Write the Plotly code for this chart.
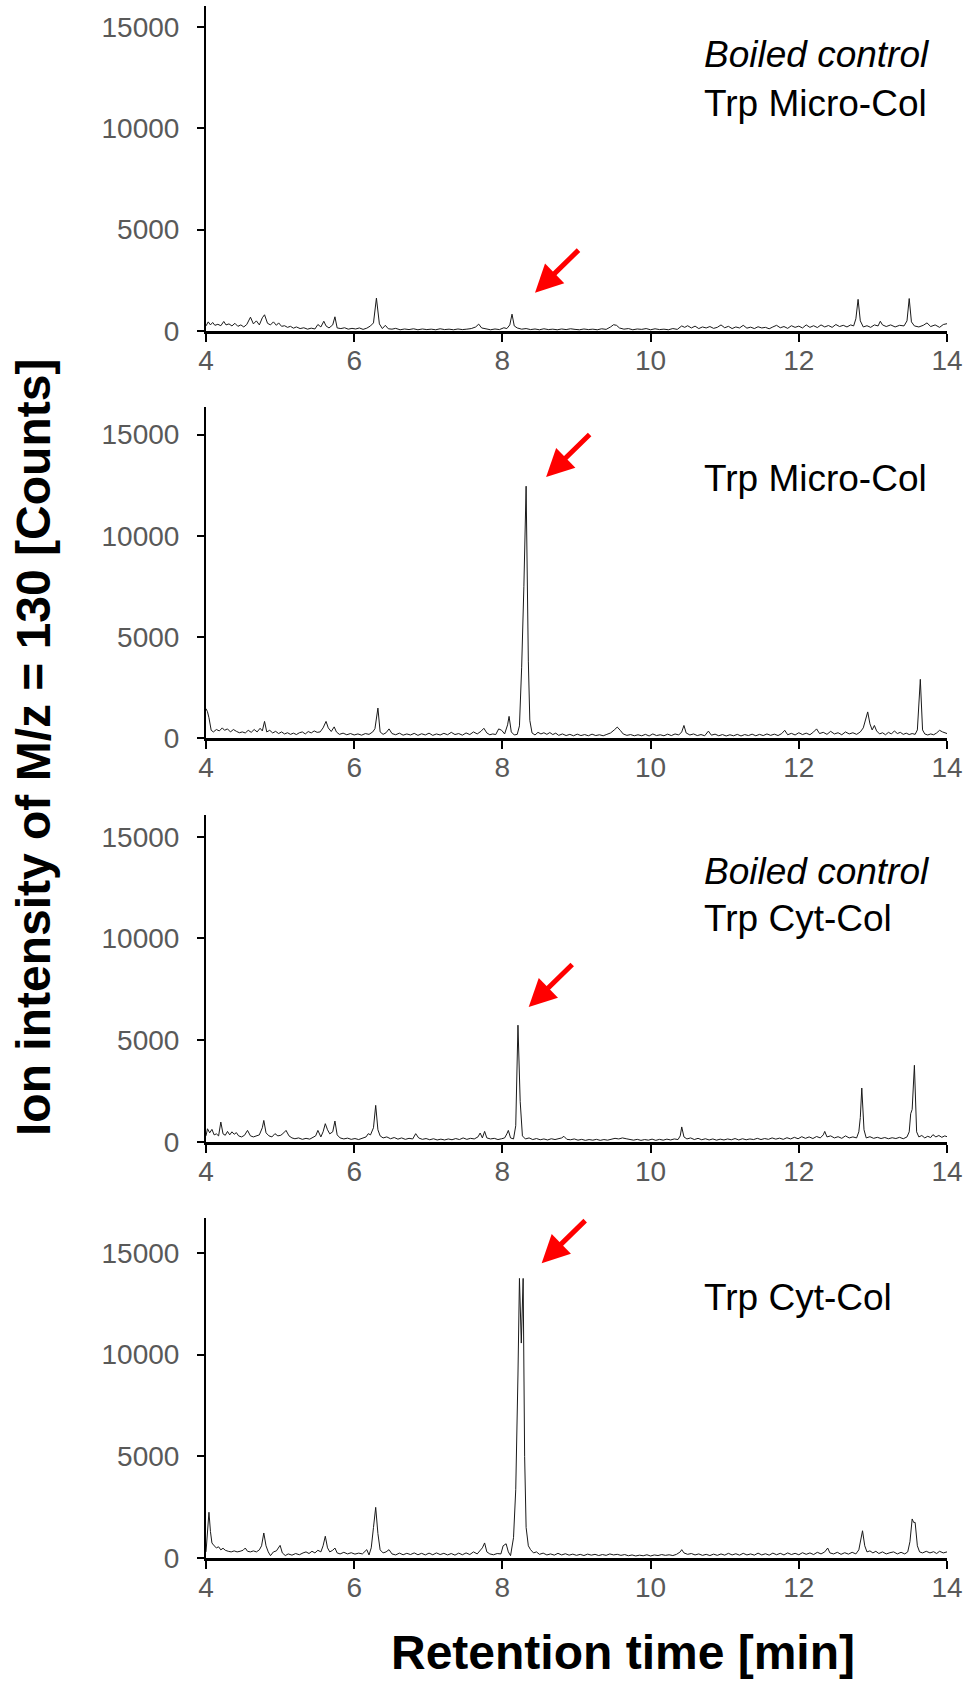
import plotly.graph_objects as go

# ---------------- data ----------------
x_ticks = [4, 6, 8, 10, 12, 14]
y_ticks = [0, 5000, 10000, 15000]
y_tick_text = ["0", "5000", "10000", "15000"]

panel_labels = [
    ["<i>Boiled control</i>", "Trp Micro-Col"],
    ["Trp Micro-Col"],
    ["<i>Boiled control</i>", "Trp Cyt-Col"],
    ["Trp Cyt-Col"],
]

# Panel 1: Boiled control, Trp Micro-Col
t1 = [4.00,4.03,4.06,4.09,4.12,4.16,4.20,4.24,4.27,4.31,
      4.35,4.39,4.43,4.47,4.51,4.55,4.60,4.64,4.68,4.72,
      4.76,4.79,4.83,4.87,4.91,4.95,4.98,5.02,5.06,5.10,
      5.14,5.18,5.22,5.27,5.32,5.37,5.42,5.47,5.51,5.55,
      5.59,5.62,5.66,5.71,5.74,5.77,5.82,5.87,5.92,5.97,
      6.02,6.07,6.12,6.17,6.22,6.26,6.30,6.34,6.38,6.42,
      6.46,6.51,6.56,6.62,6.68,6.74,6.80,6.86,6.92,6.98,
      7.04,7.10,7.16,7.22,7.28,7.34,7.40,7.46,7.52,7.58,
      7.64,7.68,7.72,7.78,7.84,7.90,7.96,8.02,8.06,8.10,
      8.13,8.16,8.20,8.26,8.32,8.38,8.44,8.50,8.56,8.62,
      8.68,8.74,8.80,8.86,8.92,8.98,9.04,9.10,9.16,9.22,
      9.28,9.34,9.40,9.46,9.50,9.54,9.58,9.64,9.70,9.76,
      9.82,9.88,9.94,10.00,10.06,10.12,10.18,10.24,10.30,10.36,
      10.42,10.46,10.50,10.55,10.60,10.65,10.70,10.75,10.80,10.85,
      10.90,10.95,11.00,11.05,11.10,11.15,11.20,11.25,11.30,11.35,
      11.40,11.45,11.50,11.55,11.60,11.65,11.70,11.75,11.80,11.85,
      11.90,11.95,12.00,12.05,12.10,12.15,12.20,12.25,12.30,12.35,
      12.40,12.45,12.50,12.55,12.60,12.65,12.70,12.74,12.77,12.80,
      12.83,12.87,12.92,12.97,13.02,13.07,13.10,13.13,13.18,13.24,
      13.30,13.36,13.42,13.46,13.49,13.52,13.56,13.62,13.68,13.73,
      13.78,13.84,13.90,13.95,14.00]
v1 = [250,450,300,420,280,330,260,470,300,350,
      250,380,230,300,200,320,680,350,500,300,
      650,800,380,300,450,280,400,230,260,180,
      230,140,200,120,160,90,140,100,320,200,
      480,250,150,300,700,150,120,160,90,130,
      100,150,80,140,250,400,1620,350,120,280,
      110,90,130,60,100,70,110,60,100,70,
      90,60,110,70,90,60,100,70,90,120,
      200,340,150,90,60,100,70,160,120,300,
      830,250,150,90,120,70,100,60,110,70,
      90,60,100,70,110,80,60,100,70,90,
      60,110,80,200,310,280,150,90,120,60,
      100,80,120,60,110,70,90,60,120,80,
      250,180,260,150,240,120,200,150,220,130,
      180,300,160,230,120,200,150,280,140,190,
      120,210,150,180,110,200,280,160,220,130,
      260,180,240,150,300,180,260,170,300,200,
      270,180,320,220,280,200,300,250,600,1560,
      500,200,260,180,300,250,480,300,220,300,
      200,280,250,500,1600,450,250,200,280,400,
      220,300,180,320,360]

# Panel 2: Trp Micro-Col
t2 = [4.00,4.02,4.04,4.07,4.10,4.14,4.18,4.22,4.25,4.29,
      4.33,4.37,4.41,4.45,4.49,4.53,4.57,4.61,4.65,4.69,
      4.73,4.76,4.79,4.82,4.86,4.90,4.94,4.98,5.02,5.06,
      5.10,5.14,5.18,5.22,5.26,5.30,5.34,5.38,5.42,5.46,
      5.50,5.54,5.58,5.62,5.65,5.69,5.73,5.76,5.80,5.85,
      5.90,5.95,6.00,6.05,6.10,6.15,6.20,6.25,6.28,6.32,
      6.35,6.39,6.43,6.47,6.51,6.56,6.61,6.66,6.71,6.76,
      6.81,6.86,6.91,6.96,7.01,7.06,7.11,7.16,7.21,7.26,
      7.31,7.36,7.41,7.46,7.51,7.56,7.61,7.66,7.71,7.75,
      7.79,7.83,7.87,7.91,7.95,7.99,8.03,8.07,8.09,8.12,
      8.16,8.20,8.23,8.26,8.29,8.32,8.35,8.37,8.40,8.44,
      8.48,8.52,8.56,8.60,8.64,8.68,8.72,8.76,8.81,8.86,
      8.91,8.96,9.01,9.06,9.11,9.16,9.21,9.26,9.31,9.36,
      9.41,9.46,9.51,9.55,9.59,9.63,9.68,9.73,9.78,9.83,
      9.88,9.93,9.98,10.03,10.08,10.13,10.18,10.23,10.28,10.33,
      10.38,10.42,10.45,10.48,10.53,10.58,10.63,10.68,10.73,10.78,
      10.82,10.87,10.92,10.97,11.02,11.07,11.12,11.17,11.22,11.27,
      11.32,11.37,11.42,11.47,11.52,11.57,11.62,11.67,11.72,11.77,
      11.81,11.85,11.90,11.95,12.00,12.05,12.10,12.15,12.20,12.24,
      12.28,12.33,12.38,12.43,12.48,12.53,12.58,12.63,12.68,12.73,
      12.78,12.83,12.87,12.90,12.93,12.96,12.99,13.02,13.05,13.09,
      13.13,13.17,13.21,13.25,13.29,13.33,13.37,13.41,13.45,13.49,
      13.53,13.57,13.60,13.64,13.67,13.70,13.74,13.78,13.82,13.86,
      13.90,13.94,13.98,14.00]
v2 = [1450,1300,1000,380,300,420,350,500,380,450,
      300,420,330,260,300,250,380,280,420,300,
      480,350,820,300,380,250,330,220,300,200,
      260,180,240,170,260,300,200,320,250,350,
      280,300,500,820,500,320,550,300,180,240,
      160,220,150,200,140,220,180,300,460,1480,
      300,180,260,450,220,160,240,140,200,150,
      230,130,210,150,240,130,200,150,230,160,
      280,170,220,140,250,170,300,200,330,480,
      250,160,200,170,450,380,200,650,1070,300,
      150,180,600,3500,7500,12450,3800,870,250,150,
      280,200,260,180,270,170,240,130,200,120,
      180,110,190,120,170,110,190,120,160,110,
      180,250,400,540,380,200,130,170,110,160,
      110,180,100,200,120,160,110,190,120,200,
      150,300,620,250,150,200,120,170,110,340,
      140,190,110,170,100,160,110,180,100,170,
      120,190,110,180,120,200,130,190,120,220,
      380,160,230,150,260,170,240,160,300,450,
      220,280,180,330,200,260,160,300,200,260,
      180,300,500,900,1290,700,400,620,350,200,
      260,160,280,200,350,220,280,180,240,170,
      220,180,400,2900,400,200,150,200,160,250,
      380,300,250,220]

# Panel 3: Boiled control, Trp Cyt-Col
t3 = [4.00,4.02,4.05,4.08,4.11,4.14,4.17,4.20,4.23,4.26,
      4.29,4.32,4.35,4.38,4.41,4.44,4.48,4.52,4.56,4.60,
      4.64,4.68,4.72,4.76,4.78,4.81,4.85,4.89,4.93,4.97,
      5.01,5.05,5.08,5.12,5.16,5.20,5.25,5.30,5.35,5.40,
      5.44,5.48,5.51,5.55,5.58,5.61,5.64,5.67,5.71,5.74,
      5.77,5.81,5.86,5.91,5.96,6.01,6.06,6.11,6.16,6.19,
      6.22,6.26,6.29,6.32,6.35,6.39,6.44,6.49,6.54,6.59,
      6.64,6.69,6.74,6.79,6.83,6.87,6.92,6.97,7.02,7.07,
      7.12,7.17,7.22,7.27,7.32,7.37,7.42,7.47,7.52,7.57,
      7.62,7.67,7.70,7.73,7.76,7.79,7.84,7.89,7.94,7.99,
      8.03,8.06,8.08,8.11,8.15,8.18,8.21,8.24,8.27,8.31,
      8.36,8.41,8.46,8.51,8.56,8.61,8.66,8.71,8.76,8.80,
      8.83,8.87,8.92,8.97,9.02,9.07,9.12,9.17,9.22,9.27,
      9.32,9.37,9.42,9.47,9.52,9.57,9.62,9.67,9.72,9.77,
      9.82,9.87,9.92,9.97,10.02,10.07,10.12,10.17,10.22,10.27,
      10.32,10.37,10.40,10.42,10.45,10.49,10.54,10.59,10.64,10.69,
      10.74,10.79,10.84,10.89,10.94,10.99,11.04,11.09,11.14,11.19,
      11.24,11.29,11.34,11.39,11.44,11.49,11.54,11.59,11.64,11.69,
      11.74,11.79,11.84,11.89,11.94,11.99,12.04,12.09,12.14,12.19,
      12.24,12.29,12.33,12.35,12.38,12.43,12.48,12.53,12.58,12.63,
      12.68,12.73,12.78,12.81,12.83,12.85,12.88,12.91,12.96,13.01,
      13.06,13.11,13.16,13.21,13.26,13.31,13.36,13.41,13.46,13.49,
      13.51,13.53,13.56,13.59,13.62,13.66,13.70,13.74,13.78,13.81,
      13.85,13.89,13.93,13.97,14.00]
v3 = [300,650,450,620,350,400,300,980,400,330,
      520,350,500,380,460,300,250,330,570,300,
      250,300,350,700,1060,450,300,250,410,300,
      330,450,570,300,200,160,200,130,180,140,
      220,300,570,250,500,900,600,400,500,1030,
      350,200,150,190,130,170,120,180,250,410,
      350,700,1800,600,300,200,250,160,220,140,
      200,130,180,150,410,200,130,170,110,160,
      100,140,100,150,110,170,120,200,130,180,
      150,250,440,200,520,200,150,180,120,160,
      200,400,570,200,150,800,5740,2000,300,150,
      200,120,170,110,150,100,160,120,150,200,
      280,130,110,150,90,130,80,120,90,130,
      80,120,90,140,180,150,200,160,130,90,
      130,80,120,90,140,80,130,90,140,100,
      150,120,300,740,250,150,200,120,180,110,
      160,100,150,90,140,100,150,110,170,100,
      160,110,150,120,180,120,170,130,200,140,
      190,130,210,150,230,160,260,180,250,170,
      270,200,350,520,250,300,200,260,180,300,
      200,250,200,500,1200,2650,600,200,260,180,
      230,170,220,160,210,170,230,160,250,500,
      1390,1600,3770,500,250,320,200,280,220,360,
      250,320,230,300,260]

# Panel 4: Trp Cyt-Col
t4 = [4.00,4.02,4.04,4.06,4.08,4.11,4.14,4.17,4.20,4.23,
      4.26,4.30,4.34,4.38,4.42,4.46,4.50,4.53,4.56,4.60,
      4.64,4.68,4.72,4.75,4.78,4.81,4.84,4.87,4.91,4.95,
      4.98,5.00,5.03,5.07,5.11,5.16,5.21,5.26,5.31,5.35,
      5.39,5.43,5.47,5.51,5.55,5.58,5.61,5.64,5.67,5.71,
      5.74,5.77,5.81,5.86,5.91,5.96,6.01,6.06,6.11,6.14,
      6.17,6.20,6.23,6.26,6.29,6.32,6.35,6.39,6.43,6.47,
      6.51,6.56,6.61,6.66,6.71,6.76,6.81,6.86,6.91,6.96,
      7.01,7.06,7.11,7.16,7.21,7.26,7.31,7.36,7.41,7.46,
      7.51,7.56,7.61,7.66,7.70,7.73,7.76,7.79,7.83,7.88,
      7.93,7.98,8.01,8.03,8.05,8.08,8.11,8.15,8.18,8.21,
      8.23,8.255,8.28,8.30,8.32,8.35,8.38,8.42,8.46,8.50,
      8.55,8.60,8.65,8.70,8.75,8.80,8.85,8.90,8.95,9.00,
      9.05,9.10,9.15,9.20,9.25,9.30,9.35,9.40,9.45,9.50,
      9.55,9.60,9.65,9.70,9.75,9.80,9.85,9.90,9.95,10.00,
      10.05,10.10,10.15,10.20,10.25,10.30,10.35,10.40,10.42,10.45,
      10.50,10.55,10.60,10.65,10.70,10.75,10.80,10.85,10.90,10.95,
      11.00,11.05,11.10,11.15,11.20,11.25,11.30,11.35,11.40,11.45,
      11.50,11.55,11.60,11.65,11.70,11.75,11.80,11.85,11.90,11.95,
      12.00,12.05,12.10,12.15,12.20,12.25,12.30,12.35,12.39,12.42,
      12.47,12.52,12.57,12.62,12.67,12.72,12.77,12.81,12.84,12.86,
      12.89,12.92,12.96,13.00,13.04,13.08,13.13,13.18,13.23,13.28,
      13.33,13.38,13.43,13.47,13.50,13.53,13.55,13.57,13.60,13.63,
      13.67,13.72,13.77,13.82,13.86,13.90,13.95,14.00]
v4 = [300,1200,2250,1300,740,600,500,550,400,480,
      380,330,300,350,300,330,380,490,330,300,
      350,300,400,600,1230,600,300,115,300,350,
      500,620,250,120,200,140,220,160,250,300,
      220,330,250,380,300,600,1070,500,300,380,
      490,250,200,280,200,260,190,240,200,300,
      410,150,500,1500,2490,1200,400,250,300,410,
      200,150,240,160,230,170,250,160,230,150,
      240,160,250,170,230,150,220,140,240,160,
      250,170,300,200,380,500,740,300,200,160,
      220,200,600,650,700,300,115,1000,3360,9000,
      13750,10570,13750,5000,1500,600,410,250,300,180,
      240,150,200,140,230,150,210,140,190,130,
      180,120,190,140,180,120,170,130,200,150,
      180,130,170,110,150,100,140,110,160,100,
      150,120,170,130,160,120,180,300,410,250,
      180,220,150,200,130,180,120,190,130,200,
      140,230,150,210,140,230,150,200,140,240,
      150,210,140,240,160,230,150,250,170,230,
      160,260,180,250,170,280,200,300,490,250,
      200,280,180,260,190,280,200,400,900,1340,
      600,300,350,250,330,220,300,200,260,300,
      200,280,200,300,800,1920,1750,1750,600,300,
      250,330,250,310,220,330,250,300]

# arrow tips (retention time, intensity) pointing at the Trp peak
arrow_t = [8.44, 8.59, 8.355, 8.53]
arrow_v = [1890, 12900, 6630, 14500]

# ---------------- layout constants ----------------
W, H = 966, 1681
FONT = "Liberation Sans, Arial, Helvetica, sans-serif"
TICK_GREY = "#595959"
X_LEFT, X_RIGHT = 206, 947
panel_px = [(6, 331, 16020), (407, 738, 16365), (815, 1142, 16067), (1218, 1558, 16721)]
label_px = [[54, 103], [479], [871, 918], [1297]]
LABEL_X = 702

traces_t = [t1, t2, t3, t4]
traces_v = [v1, v2, v3, v4]
for tt, vv in zip(traces_t, traces_v):
    assert len(tt) == len(vv)

fig = go.Figure()
annotations = []
for i, (tt, vv) in enumerate(zip(traces_t, traces_v)):
    n = "" if i == 0 else str(i + 1)
    fig.add_trace(go.Scatter(x=tt, y=vv, mode="lines", xaxis="x" + n, yaxis="y" + n,
                             line=dict(color="#1a1a1a", width=1), showlegend=False,
                             hoverinfo="skip"))
    top, bot, ymax = panel_px[i]
    fig.layout["xaxis" + n] = dict(
        domain=[X_LEFT / W, X_RIGHT / W], range=[4, 14], anchor="y" + n,
        tickvals=x_ticks, ticks="outside", ticklen=8, tickwidth=2, tickcolor="black",
        showline=True, linecolor="black", linewidth=2.5, showgrid=False, zeroline=False,
        tickfont=dict(family=FONT, size=28, color=TICK_GREY), ticklabelstandoff=-5,
        automargin=False,
    )
    fig.layout["yaxis" + n] = dict(
        domain=[1 - bot / H, 1 - top / H], range=[0, ymax], anchor="x" + n,
        tickvals=y_ticks, ticktext=y_tick_text, ticks="outside", ticklen=7, tickwidth=2,
        tickcolor="black", showline=True, linecolor="black", linewidth=2, showgrid=False,
        zeroline=False, tickfont=dict(family=FONT, size=28, color=TICK_GREY),
        ticklabelstandoff=12, automargin=False,
    )
    for txt, cy in zip(panel_labels[i], label_px[i]):
        annotations.append(dict(text=txt, xref="paper", yref="paper", x=LABEL_X / W,
                                y=1 - cy / H, xanchor="left", yanchor="middle",
                                showarrow=False, font=dict(family=FONT, size=37, color="black")))
    annotations.append(dict(text="", x=arrow_t[i], y=arrow_v[i], xref="x" + n, yref="y" + n,
                            showarrow=True, ax=45, ay=-44, arrowcolor="#ff0000",
                            arrowwidth=5, arrowhead=2, arrowsize=1.1))

annotations.append(dict(text="<b>Ion intensity of M/z = 130 [Counts]</b>", textangle=-90,
                        xref="paper", yref="paper", x=34 / W, y=1 - 748 / H,
                        xanchor="center", yanchor="middle", showarrow=False,
                        font=dict(family=FONT, size=48, color="black")))
annotations.append(dict(text="<b>Retention time [min]</b>",
                        xref="paper", yref="paper", x=623 / W, y=1 - 1652 / H,
                        xanchor="center", yanchor="middle", showarrow=False,
                        font=dict(family=FONT, size=48, color="black")))

fig.update_layout(width=W, height=H, margin=dict(l=0, r=0, t=0, b=0, pad=0),
                  paper_bgcolor="white", plot_bgcolor="white",
                  annotations=annotations, font=dict(family=FONT))
fig.write_html("out.html", config={"displayModeBar": False},
               post_script="document.body.style.margin='0';document.body.style.overflow='hidden';")
